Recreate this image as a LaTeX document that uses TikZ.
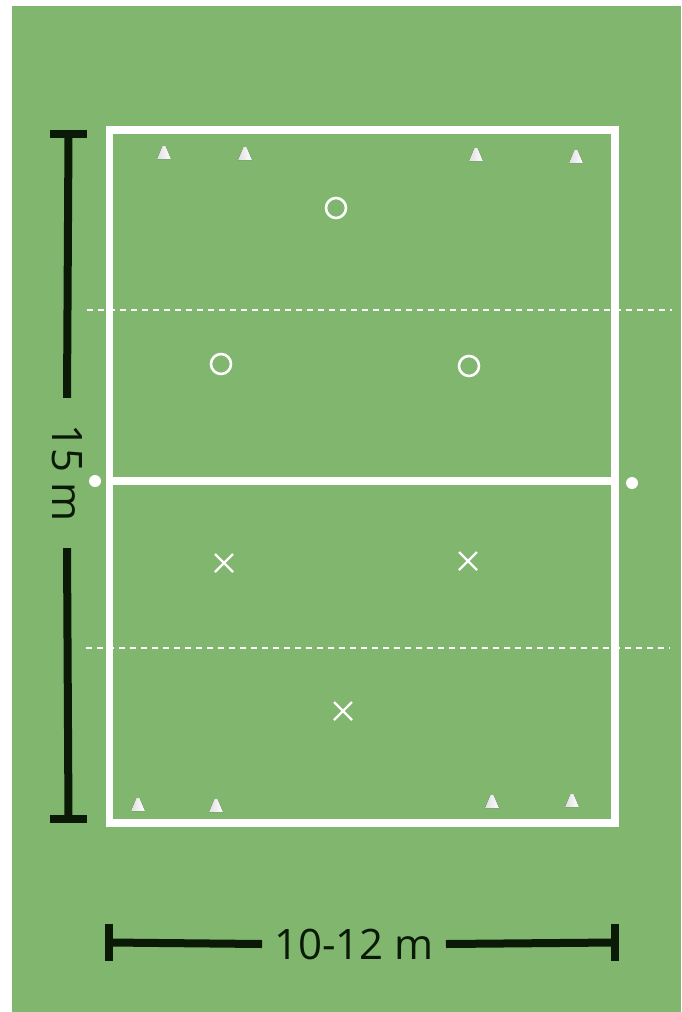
\documentclass[tikz,border=0pt]{standalone}
\usepackage{fontspec}
\setmainfont{Open Sans}
\usetikzlibrary{calc}
\definecolor{pitch}{RGB}{128,182,110}
\definecolor{darkbar}{RGB}{10,26,7}
\tikzset{
  fieldline/.style={white, line width=7.5pt},
  markline/.style={white, line width=1.6pt, dash pattern=on 5.5pt off 5.5pt},
  dimbar/.style={darkbar, line width=8pt},
  dimcap/.style={darkbar, line width=8pt},
  dimlabel/.style={text=darkbar, font=\fontsize{42}{42}\selectfont, inner sep=0pt},
  player/.style={circle, draw=white, line width=2.6pt, minimum size=20pt, inner sep=0pt},
  cross/.style={white, line width=2.4pt},
  conefill/.style={left color=gray!25!white, right color=white},
  post/.style={circle, fill=white, minimum size=12pt, inner sep=0pt}
}
\begin{document}
\begin{tikzpicture}[x=1pt,y=-1pt]
\useasboundingbox (0,0) rectangle (681,1012);
\fill[white] (0,0) rectangle (681,1012);
\fill[pitch] (12,6) rectangle (681,1012);
% dashed lines
\coordinate (d1a) at (87,310); \coordinate (d1b) at (672,310);
\coordinate (d2a) at (86,648); \coordinate (d2b) at (670,648);
\draw[markline] (d1a) -- (d1b);
\draw[markline] (d2a) -- (d2b);
% field
\coordinate (fTL) at (109.5,130); \coordinate (fBR) at (615,823);
\draw[fieldline] (fTL) rectangle (fBR);
\coordinate (mL) at (109.5,481); \coordinate (mR) at (615,481);
\draw[white, line width=8pt] (mL) -- (mR);
% posts
\node[post] (postL) at (95,481) {};
\node[post] (postR) at (632,483) {};
% players
\node[player] (o1) at (336,208) {};
\node[player] (o2) at (221,364) {};
\node[player] (o3) at (469,366) {};
\foreach \n/\x/\y in {x1/224/563, x2/468/561, x3/343/711}{
  \coordinate (\n) at (\x,\y);
  \draw[cross] ($(\n)+(-9,-9)$) -- ($(\n)+(9,9)$);
  \draw[cross] ($(\n)+(-9,9)$) -- ($(\n)+(9,-9)$);
}
% cones
\foreach \x/\y in {164/159, 245/160, 476/161, 576/163, 138/811, 216/812, 492/808, 572/807}{
  \fill[conefill] (\x-7,\y) -- (\x-1.5,\y-13) -- (\x+1.5,\y-13) -- (\x+7,\y) -- cycle;
}
% vertical dimension
\coordinate (vt) at (68.5,134);
\coordinate (vb) at (68.5,819);
\node[dimlabel, rotate=-90, inner xsep=26pt] (vtext) at (67,473) {15 m};
\draw[dimbar] (vt) -- (vtext.west);
\draw[dimbar] (vtext.east) -- (vb);
\draw[dimcap] (50,134) -- (87,134);
\draw[dimcap] (50,819) -- (87,819);
% horizontal dimension
\coordinate (hl) at (109,942.5);
\coordinate (hr) at (615,942.5);
\node[dimlabel, inner xsep=12pt] (htext) at (354,944) {10-12 m};
\draw[dimbar] (hl) -- (htext.west);
\draw[dimbar] (htext.east) -- (hr);
\draw[dimcap] (109,924) -- (109,961);
\draw[dimcap] (615,924) -- (615,961);
\end{tikzpicture}
\end{document}
